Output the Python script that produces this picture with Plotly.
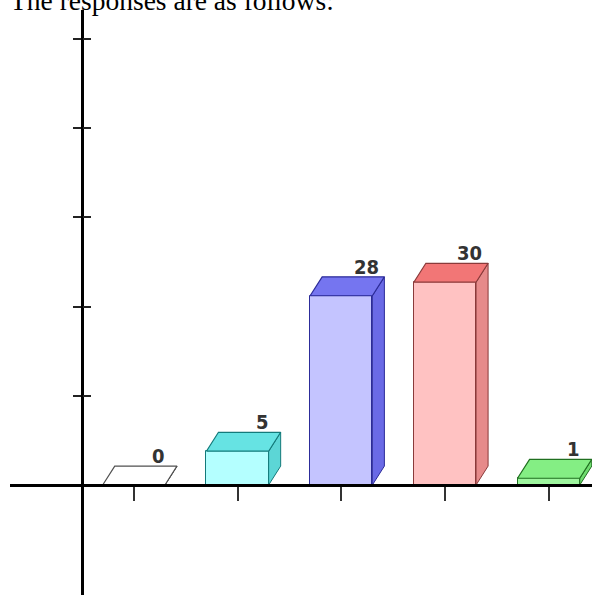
import plotly.graph_objects as go

# ---- data ----
categories = [0.5, 1.5, 2.5, 3.5, 4.5]          # category slots along the x axis
values = [0, 5, 28, 30, 1]
value_labels = ["0", "5", "28", "30", "1"]
y_tick_positions = [13.2, 26.4, 39.6, 52.8, 66.0]
title_text = "The responses are as follows:"

# ---- styles ----
front_colors = ["#ffffff", "#b4ffff", "#c4c4ff", "#ffc2c2", "#9ef59e"]
top_colors = ["#ffffff", "#66e3e3", "#7575f0", "#f27676", "#84ee84"]
side_colors = ["#e6e6e6", "#5cd6d6", "#6a6ae6", "#e68a8a", "#6fdc6f"]
edge_colors = ["#505050", "#137a7a", "#2c2c99", "#8a3a3a", "#206f20"]

bar_w = 0.6
depth_x = 0.116
depth_y = 2.8
x_range = [-0.694, 4.918]
y_range = [-16.27, 70.27]

fig = go.Figure()

fig.add_trace(go.Bar(
    x=categories, y=values, width=bar_w,
    marker=dict(color=front_colors, line=dict(color=edge_colors, width=1)),
    hoverinfo="skip", showlegend=False,
))

hw = bar_w / 2
for c, v, tc, sc, ec in zip(categories, values, top_colors, side_colors, edge_colors):
    # side face
    fig.add_trace(go.Scatter(
        x=[c + hw, c + hw + depth_x, c + hw + depth_x, c + hw, c + hw],
        y=[0, depth_y, v + depth_y, v, 0],
        fill="toself", fillcolor=sc, mode="lines",
        line=dict(color=ec, width=1), hoverinfo="skip", showlegend=False,
    ))
    # top face
    fig.add_trace(go.Scatter(
        x=[c - hw, c + hw, c + hw + depth_x, c - hw + depth_x, c - hw],
        y=[v, v, v + depth_y, v + depth_y, v],
        fill="toself", fillcolor=tc, mode="lines",
        line=dict(color=ec, width=1.2), hoverinfo="skip", showlegend=False,
    ))

for c, v, lab in zip(categories, values, value_labels):
    fig.add_annotation(
        x=c + 0.24, y=v + depth_y, text=lab, showarrow=False,
        xanchor="center", yanchor="bottom", yshift=-4,
        font=dict(family="DejaVu Sans Condensed, Liberation Sans Narrow, Arial Narrow",
                  size=20, color="#333333", weight="bold"),
    )

# invisible trace so the overlay axes exist
fig.add_trace(go.Scatter(x=[None], y=[None], xaxis="x2", yaxis="y2",
                         showlegend=False, hoverinfo="skip"))

x_pos = (0 - y_range[0]) / (y_range[1] - y_range[0])
y_pos = (0 - x_range[0]) / (x_range[1] - x_range[0])

fig.add_annotation(
    xref="paper", yref="paper", x=0, y=1.0155, xanchor="left", yanchor="middle",
    xshift=-2, text=title_text, showarrow=False,
    font=dict(family="Liberation Serif, Times New Roman, serif", size=27.5, color="#000000"),
)

fig.update_layout(
    width=592, height=595,
    margin=dict(l=10, r=0, t=10, b=0),
    paper_bgcolor="white", plot_bgcolor="white",
    bargap=0,
    xaxis=dict(range=x_range, anchor="free", position=x_pos,
               showline=True, linecolor="black", linewidth=3,
               showgrid=False, zeroline=False,
               tickvals=categories, ticktext=[""] * 5, ticks="outside",
               ticklen=14, tickwidth=1.5, tickcolor="#333333",
               layer="above traces"),
    xaxis2=dict(range=x_range, overlaying="x", anchor="free", position=x_pos,
                showline=False, showgrid=False, zeroline=False,
                tickvals=categories, ticktext=[""] * 5, ticks="inside",
                ticklen=9, tickwidth=1.5, tickcolor="#333333",
                layer="below traces"),
    yaxis=dict(range=y_range, anchor="free", position=y_pos,
               showline=True, linecolor="black", linewidth=2.5,
               showgrid=False, zeroline=False,
               tickvals=y_tick_positions, ticktext=[""] * 5, ticks="outside",
               ticklen=8, tickwidth=2, tickcolor="#222222"),
    yaxis2=dict(range=y_range, overlaying="y", anchor="free", position=y_pos,
                showline=False, showgrid=False, zeroline=False,
                tickvals=y_tick_positions, ticktext=[""] * 5, ticks="inside",
                ticklen=8, tickwidth=2, tickcolor="#222222"),
)

fig.write_html("out.html",
               config={"displayModeBar": False},
               post_script="document.body.style.margin='0';document.body.style.overflow='hidden';")
